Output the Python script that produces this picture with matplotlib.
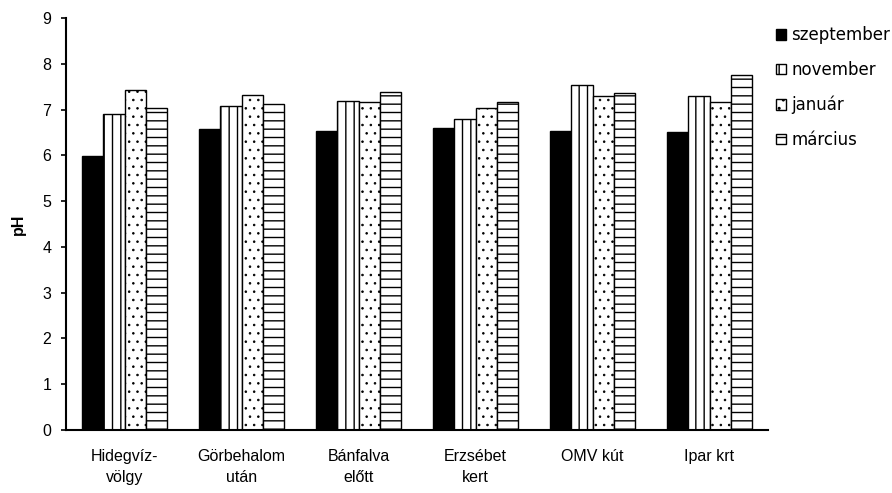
import numpy as np
import matplotlib.pyplot as plt

plt.rcParams['font.family'] = ['Liberation Sans', 'DejaVu Sans']
plt.rcParams['hatch.linewidth'] = 1.0

# mintavételi helyek és hónapok
helyek = ['Hidegvíz-\nvölgy', 'Görbehalom\nután', 'Bánfalva\nelőtt', 'Erzsébet\nkert', 'OMV kút', 'Ipar krt']
honapok = ['szeptember', 'november', 'január', 'március']

szeptember = [5.98, 6.58, 6.54, 6.61, 6.54, 6.51]
november = [6.90, 7.09, 7.19, 6.80, 7.53, 7.29]
januar = [7.44, 7.33, 7.16, 7.03, 7.29, 7.16]
marcius = [7.03, 7.13, 7.39, 7.16, 7.36, 7.76]

sorozatok = [szeptember, november, januar, marcius]
szinek = ['black', 'white', 'white', 'white']
mintak = ['', '||', '..', '--']
minta_vastagsag = [1.0, 1.0, 0.6, 1.0]

fig = plt.figure(figsize=(8.92, 4.93), dpi=100)
ax = fig.add_axes([0.074, 0.128, 0.787, 0.835])

x = np.arange(len(helyek))
w = 0.182
for i, (ertek, szin, minta) in enumerate(zip(sorozatok, szinek, mintak)):
    with plt.rc_context({'hatch.linewidth': minta_vastagsag[i]}):
        ax.bar(x + (i - 1.5) * w, ertek, w, color=szin, edgecolor='black',
               hatch=minta, linewidth=1.0, label=honapok[i])

ax.set_xlim(-0.5, len(helyek) - 0.5)
ax.set_ylim(0, 9)
ax.set_yticks(range(10))
ax.set_xticks(x)
ax.set_xticklabels(helyek, fontsize=11.5, linespacing=1.45)
ax.tick_params(axis='x', length=0, pad=14)
ax.tick_params(axis='y', length=3.6, width=1.2, labelsize=11.5, pad=7)
for s in ['top', 'right']:
    ax.spines[s].set_visible(False)
for s in ['left', 'bottom']:
    ax.spines[s].set_linewidth(1.5)

ax.set_ylabel('pH', fontsize=11.5, fontweight='bold', labelpad=12)

fig.legend(loc='upper left', bbox_to_anchor=(0.862, 0.96), frameon=False,
           prop={'family': 'DejaVu Sans', 'size': 12},
           handlelength=0.6, handleheight=0.6,
           handletextpad=0.35, labelspacing=1.0, borderaxespad=0)

fig.savefig('out.png', dpi=100)
